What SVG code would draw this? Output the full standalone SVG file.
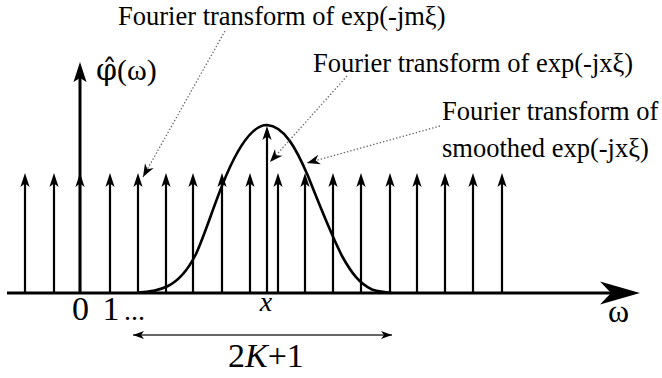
<svg xmlns="http://www.w3.org/2000/svg" xmlns:xlink="http://www.w3.org/1999/xlink" width="662" height="378" viewBox="0 0 662 378">
<style>
text{font-family:"Liberation Serif","DejaVu Serif","Times New Roman",serif;fill:#000}
.lbl{font-size:26.5px}
.num{font-size:34px}
.stem{stroke:#000;stroke-width:2.2;fill:none}
.dot{stroke:#666;stroke-width:1.3;stroke-dasharray:1.4 2;fill:none}
</style>
<defs>
<path id="head" d="M0,0 L-4.6,14 L0,10.5 L4.6,14 Z" fill="#000"/>
<marker id="dh" markerUnits="userSpaceOnUse" markerWidth="14" markerHeight="10" refX="13" refY="5" orient="auto" overflow="visible">
<path d="M0,0 L13,5 L0,10 L4,5 Z" fill="#000"/>
</marker>
<marker id="sh" markerUnits="userSpaceOnUse" markerWidth="12" markerHeight="8" refX="11" refY="4" orient="auto-start-reverse" overflow="visible">
<path d="M0,0 L11,4 L0,8 L3,4 Z" fill="#000"/>
</marker>
</defs>

<g id="axes">
<line x1="7" y1="293" x2="612" y2="293" stroke="#000" stroke-width="3.2"/>
<path d="M640,293 L600,281.5 L611,293 L600,304.5 Z" fill="#000"/>
<line x1="80" y1="293" x2="80" y2="76" stroke="#000" stroke-width="3"/>
<path d="M80,62 L73.5,82 L80,78 L86.5,82 Z" fill="#000"/>
</g>

<g id="stems">
<path class="stem" d="M25,293V183M54,293V183M80,293V183M110,293V183M138,293V183M166,293V183M193,293V183M222,293V183M250,293V183M278,293V183M305,293V183M333,293V183M361,293V183M390,293V183M417,293V183M445,293V183M473,293V183M502,293V183"/>
<use xlink:href="#head" x="25" y="173"/>
<use xlink:href="#head" x="54" y="173"/>
<use xlink:href="#head" x="80" y="173"/>
<use xlink:href="#head" x="110" y="173"/>
<use xlink:href="#head" x="138" y="173"/>
<use xlink:href="#head" x="166" y="173"/>
<use xlink:href="#head" x="193" y="173"/>
<use xlink:href="#head" x="222" y="173"/>
<use xlink:href="#head" x="250" y="173"/>
<use xlink:href="#head" x="278" y="173"/>
<use xlink:href="#head" x="305" y="173"/>
<use xlink:href="#head" x="333" y="173"/>
<use xlink:href="#head" x="361" y="173"/>
<use xlink:href="#head" x="390" y="173"/>
<use xlink:href="#head" x="417" y="173"/>
<use xlink:href="#head" x="445" y="173"/>
<use xlink:href="#head" x="473" y="173"/>
<use xlink:href="#head" x="502" y="173"/>
<path class="stem" d="M267,293V136"/>
<use xlink:href="#head" x="267" y="126"/>
</g>

<g id="curve">
<path d="M138,292.5 C152,292 160,290 168,286 C180,280 188,270 196,254 C206,232 214,204 226,176 C238,148 252,125 267,125 C284,126 296,148 308,176 C320,206 330,232 342,256 C352,274 360,284 372,289.5 C380,292 386,292.5 392,293" fill="none" stroke="#000" stroke-width="2.6" stroke-linejoin="round"/>
</g>

<g id="connectors">
<line class="dot" x1="225" y1="31" x2="143" y2="177" marker-end="url(#dh)"/>
<line class="dot" x1="347" y1="76" x2="270" y2="162" marker-end="url(#dh)"/>
<line class="dot" x1="440" y1="126" x2="307" y2="163" marker-end="url(#dh)"/>
<line x1="133" y1="335" x2="392" y2="335" stroke="#333" stroke-width="1.5" marker-start="url(#sh)" marker-end="url(#sh)"/>
</g>

<g id="labels">
<text class="lbl" x="118" y="25">Fourier transform of exp(-jmξ)</text>
<text class="lbl" x="313" y="72">Fourier transform of exp(-jxξ)</text>
<text class="lbl" x="442" y="120">Fourier transform of</text>
<text class="lbl" x="442" y="157">smoothed exp(-jxξ)</text>
<text x="96" y="80" style="font-size:30px"><tspan style="font-family:'DejaVu Serif',serif">φ̂</tspan>(ω)</text>
<text x="608" y="322" style="font-size:32px">ω</text>
<text x="266" y="311" text-anchor="middle" style="font-size:28px;font-style:italic">x</text>
<text class="num" x="80.5" y="320" text-anchor="middle">0</text>
<text class="num" x="111" y="320" text-anchor="middle">1</text>
<text x="124" y="320" style="font-size:28px">...</text>
<text class="num" x="228" y="367">2<tspan style="font-style:italic">K</tspan>+1</text>
</g>
</svg>
